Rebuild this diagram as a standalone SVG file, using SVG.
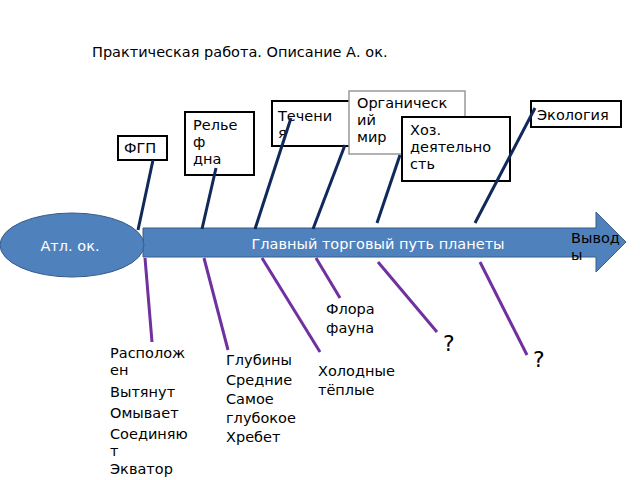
<svg xmlns="http://www.w3.org/2000/svg" width="640" height="480" viewBox="0 0 640 480">
<style>
text{font-family:"DejaVu Sans","Noto Sans",sans-serif;font-size:14.5px;fill:#000}
.b{fill:#fff;stroke:#000;stroke-width:2}
.t{stroke:#10295a;stroke-width:3;fill:none}
.p{stroke:#7030a0;stroke-width:3;fill:none}
</style>
<rect width="640" height="480" fill="#fff"/>
<text x="92" y="57">Практическая работа. Описание А. ок.</text>
<g id="spine">
<path d="M143,228 H596 V212 L626,242 L596,272 V257 H143 Z" fill="#4f81bd" stroke="#385d8a"/>
<text x="378" y="249" text-anchor="middle" style="fill:#fff">Главный торговый путь планеты</text>
</g>
<g id="head"><ellipse cx="72" cy="245" rx="72" ry="32" fill="#4f81bd" stroke="#385d8a"/><text x="70" y="251" text-anchor="middle" style="fill:#fff">Атл. ок.</text></g>
<g id="conclusions"><text x="571" y="243">Вывод</text><text x="571" y="260">ы</text></g>
<g id="fgp"><rect class="b" x="118" y="136" width="49" height="24"/><text x="124" y="153">ФГП</text></g>
<g id="relief"><rect class="b" x="185" y="112" width="69" height="63"/><text x="193" y="130">Релье</text><text x="193" y="147">ф</text><text x="193" y="164">дна</text></g>
<g id="currents"><rect class="b" x="272" y="101" width="78" height="45"/><text x="278" y="121">Течени</text><text x="278" y="138">я</text></g>
<g id="organic"><rect x="349" y="91" width="116" height="63" fill="#fff" stroke="#999" stroke-width="1.5"/><text x="357" y="108">Органическ</text><text x="357" y="125">ий</text><text x="357" y="142">мир</text></g>
<g id="econ"><rect class="b" x="402" y="117" width="108" height="64"/><text x="410" y="135">Хоз.</text><text x="410" y="152">деятельно</text><text x="410" y="169">сть</text></g>
<g id="ecology"><rect class="b" x="531" y="101" width="90" height="26"/><text x="537" y="120">Экология</text></g>
<g id="connectors">
<line class="t" x1="138" y1="230" x2="153" y2="160"/>
<line class="t" x1="202" y1="229" x2="216" y2="168"/>
<line class="t" x1="255" y1="229" x2="291" y2="118"/>
<line class="t" x1="313" y1="229" x2="345" y2="145"/>
<line class="t" x1="377" y1="223" x2="400" y2="155"/>
<line class="t" x1="475" y1="223" x2="535" y2="108"/>
<line class="p" x1="145" y1="258" x2="152" y2="342"/>
<line class="p" x1="204" y1="258" x2="228" y2="350"/>
<line class="p" x1="262" y1="258" x2="320" y2="352"/>
<line class="p" x1="316" y1="258" x2="340" y2="298"/>
<line class="p" x1="378" y1="262" x2="437" y2="332" stroke-width="2"/>
<line class="p" x1="480" y1="262" x2="527" y2="355"/>
</g>
<g id="bottom">
<text x="110" y="358">Располож</text><text x="110" y="375">ен</text><text x="110" y="397">Вытянут</text><text x="110" y="418">Омывает</text><text x="110" y="439">Соединяю</text><text x="110" y="456">т</text><text x="110" y="474">Экватор</text>
<text x="226" y="365">Глубины</text><text x="226" y="385">Средние</text><text x="226" y="404">Самое</text><text x="226" y="423">глубокое</text><text x="226" y="442">Хребет</text>
<text x="318" y="376">Холодные</text><text x="318" y="395">тёплые</text>
<text x="326" y="314">Флора</text><text x="326" y="333">фауна</text>
<text x="443" y="351" style="font-size:22px">?</text><text x="533" y="367" style="font-size:22px">?</text>
</g>
</svg>
